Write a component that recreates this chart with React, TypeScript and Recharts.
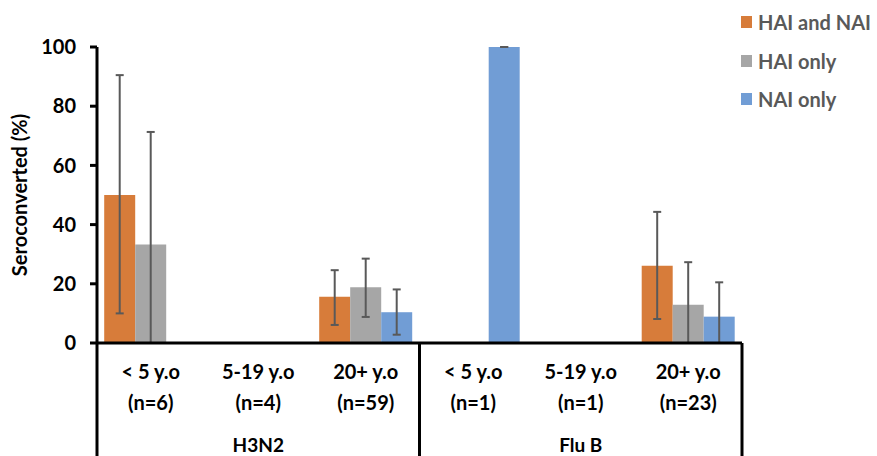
import React from 'react';
import { BarChart, Bar, XAxis, YAxis, ErrorBar, Legend } from 'recharts';

const ageLabels = ['< 5 y.o', '5-19 y.o', '20+ y.o', '< 5 y.o', '5-19 y.o', '20+ y.o'];
const nLabels = ['(n=6)', '(n=4)', '(n=59)', '(n=1)', '(n=1)', '(n=23)'];
const groupLabels = ['H3N2', 'Flu B'];
const groupOf = [0, 0, 0, 1, 1, 1];

const haiAndNai: (number | null)[] = [50, null, 15.6, null, null, 26.1];
const haiOnly: (number | null)[] = [33.3, null, 18.8, null, null, 12.9];
const naiOnly: (number | null)[] = [null, null, 10.4, 100, null, 8.9];

const haiAndNaiErr: ([number, number] | null)[] = [[40, 40.5], null, [9.5, 9], null, null, [18, 18.2]];
const haiOnlyErr: ([number, number] | null)[] = [[33.3, 38], null, [10, 9.7], null, null, [12.9, 14.4]];
const naiOnlyErr: ([number, number] | null)[] = [null, null, [7.6, 7.7], [0, 0], null, [8.9, 11.6]];

const yTicks = [0, 20, 40, 60, 80, 100];

const COLORS = { a: '#D77C3A', b: '#A6A6A6', c: '#719DD5' };
const FONT = 'Lato, "Open Sans", sans-serif';

const data = ageLabels.map((age, i) => ({
  age,
  a: haiAndNai[i],
  b: haiOnly[i],
  c: naiOnly[i],
  aErr: haiAndNaiErr[i],
  bErr: haiOnlyErr[i],
  cErr: naiOnlyErr[i],
}));

const CatTick = (props: any) => {
  const { x, y, payload, index } = props;
  const half = payload && typeof payload.offset === 'number' && payload.offset > 0 ? payload.offset : 53.75;
  const els: React.ReactNode[] = [];
  els.push(
    <text key="l1" x={x} y={y + 36} textAnchor="middle" fontFamily={FONT} fontWeight="bold" fontSize={20} fill="#000">
      {payload.value}
    </text>
  );
  els.push(
    <text key="l2" x={x} y={y + 67} textAnchor="middle" fontFamily={FONT} fontWeight="bold" fontSize={20} fill="#000">
      {nLabels[index]}
    </text>
  );
  const g = groupOf[index];
  const members = groupOf.map((v, j) => (v === g ? j : -1)).filter((j) => j >= 0);
  const mid = members[Math.floor(members.length / 2)];
  if (index === mid) {
    els.push(
      <text key="g" x={x} y={y + 109} textAnchor="middle" fontFamily={FONT} fontWeight="bold" fontSize={19} fill="#000">
        {groupLabels[g]}
      </text>
    );
  }
  if (index === members[0]) {
    els.push(<line key="ll" x1={x - half} x2={x - half} y1={y} y2={y + 120} stroke="#000" strokeWidth={3} />);
  }
  if (index === ageLabels.length - 1) {
    els.push(<line key="lr" x1={x + half} x2={x + half} y1={y} y2={y + 120} stroke="#000" strokeWidth={3} />);
  }
  return <g>{els}</g>;
};

const YLabel = (props: any) => {
  const vb = props.viewBox || { x: 0, y: 47, width: 97, height: 296 };
  const cx = 19;
  const cy = vb.y + vb.height / 2;
  return (
    <text
      x={cx}
      y={cy}
      transform={`rotate(-90, ${cx}, ${cy})`}
      textAnchor="middle"
      dominantBaseline="central"
      fontFamily={FONT}
      fontWeight="bold"
      fontSize={20}
      fill="#000"
    >
      Seroconverted (%)
    </text>
  );
};

const LegendContent = (props: any) => {
  const items = props.payload || [];
  return (
    <div style={{ fontFamily: FONT }}>
      {items.map((it: any) => (
        <div key={it.value} style={{ display: 'flex', alignItems: 'center', height: 38.5, whiteSpace: 'nowrap' }}>
          <span style={{ width: 11, height: 12, background: it.color, display: 'inline-block', marginRight: 6 }} />
          <span style={{ fontSize: 20, fontWeight: 'bold', color: '#595959' }}>{it.value}</span>
        </div>
      ))}
    </div>
  );
};

export default function App() {
  return (
    <div style={{ position: 'absolute', left: 0, top: 0, width: 877, height: 456, background: '#fff', overflow: 'hidden' }}>
      <BarChart
        width={877}
        height={456}
        data={data}
        margin={{ top: 47, right: 135, bottom: 0, left: 0 }}
        barCategoryGap="6.7%"
        barGap={0}
      >
        <XAxis
          dataKey="age"
          height={113}
          tickLine={false}
          tickSize={0}
          tickMargin={0}
          interval={0}
          axisLine={{ stroke: '#000', strokeWidth: 3 }}
          tick={<CatTick />}
        />
        <YAxis
          width={97}
          domain={[0, 100]}
          ticks={yTicks}
          interval={0}
          tickSize={7}
          tickMargin={14}
          axisLine={{ stroke: '#000', strokeWidth: 3 }}
          tickLine={{ stroke: '#000', strokeWidth: 3 }}
          tick={{ fontFamily: FONT, fontWeight: 'bold', fontSize: 20, fill: '#000' }}
          label={<YLabel />}
        />
        <Legend
          layout="vertical"
          align="center"
          verticalAlign="middle"
          wrapperStyle={{ position: 'absolute', top: 3, left: 741, width: 136 }}
          content={<LegendContent />}
        />
        <Bar dataKey="a" name="HAI and NAI" fill={COLORS.a} isAnimationActive={false}>
          <ErrorBar dataKey="aErr" width={4} stroke="#595959" strokeWidth={2} isAnimationActive={false} />
        </Bar>
        <Bar dataKey="b" name="HAI only" fill={COLORS.b} isAnimationActive={false}>
          <ErrorBar dataKey="bErr" width={4} stroke="#595959" strokeWidth={2} isAnimationActive={false} />
        </Bar>
        <Bar dataKey="c" name="NAI only" fill={COLORS.c} isAnimationActive={false}>
          <ErrorBar dataKey="cErr" width={4} stroke="#595959" strokeWidth={2} isAnimationActive={false} />
        </Bar>
      </BarChart>
    </div>
  );
}
